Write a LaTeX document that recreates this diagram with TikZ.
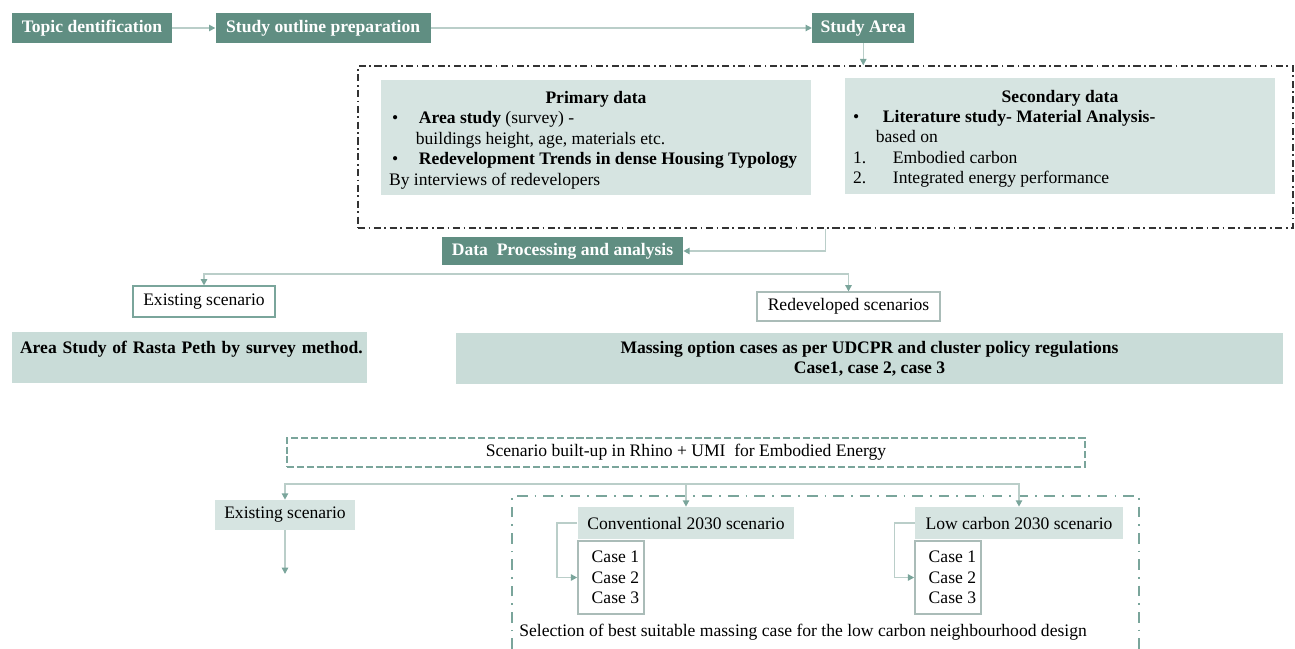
\documentclass[tikz,border=0pt]{standalone}
\usepackage{fontspec}
\setmainfont{Liberation Serif}
\usepackage{tikz}
\usetikzlibrary{positioning,arrows.meta}

\definecolor{tealdark}{RGB}{96,142,130}
\definecolor{teallight}{RGB}{214,228,225}
\definecolor{tealmid}{RGB}{201,220,216}
\definecolor{linegrey}{RGB}{186,206,201}
\definecolor{tealline}{RGB}{122,165,155}
\definecolor{caseline}{RGB}{170,188,184}

\tikzset{
  every node/.style={font=\fontsize{10pt}{11.6pt}\selectfont},
  headbox/.style={fill=tealdark, text=white, font=\fontsize{10pt}{12pt}\selectfont\bfseries,
    minimum height=0.6cm, inner sep=0pt},
  databox/.style={fill=teallight, inner xsep=0.16cm, inner ysep=0pt},
  plainbox/.style={draw=tealline, fill=white, line width=0.6pt, inner sep=0pt},
  lightbox/.style={fill=teallight, inner sep=0pt},
  policybox/.style={fill=tealmid, inner xsep=0.16cm, inner ysep=0pt,
    font=\fontsize{10pt}{11.6pt}\selectfont\bfseries, minimum height=1.02cm},
  casebox/.style={draw=caseline, fill=white, line width=0.9pt, inner sep=0pt,
    align=left, minimum width=1.32cm, minimum height=1.46cm},
  conn/.style={draw=linegrey, line width=0.85pt, -{Triangle[length=3.6pt,width=3.6pt,color=tealline]}},
  outerframe/.style={draw=black!80, line width=0.8pt, dash pattern=on 4pt off 2pt on 1pt off 2pt},
  scenframe/.style={draw=tealline, line width=1.1pt, dash pattern=on 4pt off 1.6pt, fill=white, inner sep=0pt},
  selframe/.style={draw=tealline, line width=1.1pt, dash pattern=on 6pt off 4pt on 1pt off 4pt}
}

\begin{document}
\begin{tikzpicture}[x=0.02cm, y=-0.02cm]
  \useasboundingbox (0,0) rectangle (1295,649);

  % top row
  \node[headbox, minimum width=3.2cm] (topic) at (92,28) {Topic dentification};
  \node[headbox, minimum width=4.3cm, right=0.86cm of topic] (outline) {Study outline preparation};
  \node[headbox, minimum width=2.04cm, right=7.62cm of outline] (area) {Study Area};

  % data collection
  \node[outerframe, minimum width=18.7cm, minimum height=3.24cm] (collect) at (825.5,147) {};
  \node[databox, minimum width=8.6cm, minimum height=2.3cm] (prim) at (596,137.5) {%
    \parbox{8.28cm}{\vspace*{3pt}\centering\textbf{Primary data}\par\raggedright
      \makebox[17pt][l]{\hspace{1.7pt}\textbullet}\textbf{Area study} (survey) -\par
      \hspace*{15.3pt}buildings height, age, materials etc.\par
      \mbox{\makebox[17pt][l]{\hspace{1.7pt}\textbullet}\textbf{Redevelopment Trends in dense Housing Typology}}\par
      By interviews of redevelopers}};
  \node[databox, minimum width=8.6cm, minimum height=2.32cm] (sec) at (1060,136) {%
    \parbox{8.28cm}{\vspace*{3pt}\centering\textbf{Secondary data}\par\raggedright
      \makebox[17pt][l]{\textbullet}\textbf{Literature study- Material Analysis-}\par
      \hspace*{13pt}based on\par
      \makebox[22.7pt][l]{1.}Embodied carbon\par
      \makebox[22.7pt][l]{2.}Integrated energy performance}};

  \node[headbox, minimum width=4.82cm, minimum height=0.56cm] (dpa) at (562.5,251) {Data~ Processing and analysis};

  % scenarios
  \node[plainbox, minimum width=2.84cm, minimum height=0.62cm] (exist1) at (204,301.5) {Existing scenario};
  \node[plainbox, draw=caseline, minimum width=3.66cm, minimum height=0.58cm] (redev) at (848.5,306.5) {Redeveloped scenarios};
  \node[policybox, minimum width=7.1cm, text width=6.78cm, align=left] (rasta) at (189.5,357.5)
    {\mbox{Area Study of Rasta Peth by survey method.}\\ \mbox{}};
  \node[policybox, minimum width=16.54cm, align=center] (mass) at (869.5,358.5)
    {Massing option cases as per UDCPR and cluster policy regulations\\ Case1, case 2, case 3};

  % simulation
  \node[scenframe, minimum width=15.96cm, minimum height=0.58cm] (scen) at (686,452.5)
    {Scenario built-up in Rhino + UMI~ for Embodied Energy};
  \draw[selframe] (512,649) -- (512,496) -- (1139,496) -- (1139,649);
  \node[lightbox, minimum width=2.8cm, minimum height=0.6cm] (exist2) at (285,515) {Existing scenario};
  \node[lightbox, minimum width=4.34cm, minimum height=0.64cm] (conv) at (686,523) {Conventional 2030 scenario};
  \node[lightbox, minimum width=4.16cm, minimum height=0.64cm] (low) at (1019,523) {Low carbon 2030 scenario};
  \node[casebox] (caseA) at (611,577.5) {\hspace{5pt}Case 1\\\hspace{5pt}Case 2\\\hspace{5pt}Case 3};
  \node[casebox] (caseB) at (948,577.5) {\hspace{5pt}Case 1\\\hspace{5pt}Case 2\\\hspace{5pt}Case 3};
  \node[anchor=west, inner sep=0pt] (pick) at (519,632)
    {Selection of best suitable massing case for the low carbon neighbourhood design};

  \coordinate (forkA) at (562.5,274);
  \coordinate (forkB) at (686,484);
  \coordinate (exend) at (285,574);

  % connectors
  \draw[conn] (topic.east) -- (outline.west);
  \draw[conn] (outline.east) -- (area.west);
  \draw[conn] (area.south) -- (area.south |- collect.north);
  \draw[conn] (collect.south) |- (dpa.east);
  \draw[conn] (forkA) -| (exist1.north);
  \draw[conn] (forkA) -| (redev.north);
  \draw[conn] (forkB) -| (exist2.north);
  \draw[conn] (forkB) -- (conv.north);
  \draw[conn] (forkB) -| (low.north);
  \draw[conn] (exist2.south) -- (exend);
  \draw[conn] (conv.west) -- ++(-20,0) |- (caseA.west);
  \draw[conn] (low.west) -- ++(-20,0) |- (caseB.west);
\end{tikzpicture}
\end{document}
